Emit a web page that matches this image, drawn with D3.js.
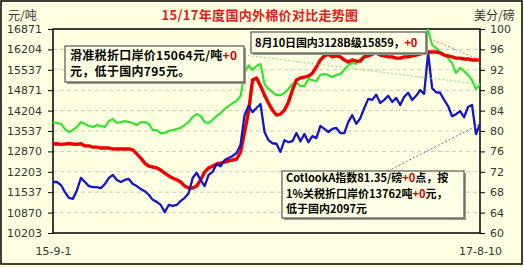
<!DOCTYPE html>
<html><head><meta charset="utf-8">
<script src="https://cdn.jsdelivr.net/npm/d3@7"></script>
<style>html,body{margin:0;padding:0;background:#ffffe1}svg{display:block}</style>
</head><body><svg id="c" width="524" height="268"></svg>
<script>
const leftTicks = [10203,10870,11537,12203,12870,13537,14204,14871,15537,16204,16871];
const rightTicks = [60,64,68,72,76,80,84,88,92,96,100];
const xLabels = ["15-9-1","17-8-10"];
const titleText = "15/17年度国内外棉价对比走势图";
const leftUnit = "元/吨";
const rightUnit = "美分/磅";

// green: sliding-tax import price (yuan/ton, left axis)
const slidingTaxPrice = [13830,13800,13770,13600,13500,13570,13670,13830,13770,13700,
 13670,13730,13700,13670,13860,13930,13800,13830,13860,13830,
 13800,13730,13830,13830,13770,13570,13570,13470,13470,13540,
 13570,13600,13640,13730,13830,13990,14090,14030,13830,13800,
 13900,14030,14120,14260,14350,14450,14520,14680,15430,15690,
 15530,15660,15730,15070,14910,14810,14710,14710,14780,14910,
 15070,15110,15010,15010,15240,15200,15170,15370,15400,15370,
 15300,15370,15400,15530,15690,15760,15730,15890,15990,16090,
 16220,16280,16250,16190,16190,16150,16120,16220,16280,16020,
 16090,16150,16190,16350,16840,16350,16250,16120,16050,15920,
 15760,15430,15600,15500,15370,15200,14910,15064];
// red: domestic 3128B price (yuan/ton, left axis)
const domestic3128B = [13110,13120,13100,13110,13130,13110,13100,13120,13050,13050,
 13010,13010,12980,12980,12980,12950,12950,12950,12950,12950,
 12920,12790,12650,12490,12390,12360,12330,12260,12160,12070,
 12000,11940,11870,11740,11670,11670,11740,11940,12200,12330,
 12390,12460,12490,12520,12560,12590,12620,12850,13500,14160,
 15200,15270,15010,14710,14450,14220,14060,14090,14220,14480,
 14880,15200,15270,15300,15330,15430,15630,15860,15990,16050,
 15960,15990,15960,15860,15790,15860,15820,15820,15960,15990,
 16050,16090,16020,15990,15960,15960,15920,15920,15960,15960,
 15990,16020,16050,16090,16120,16120,16120,16090,16020,15990,
 15960,15920,15920,15890,15890,15860,15860,15859];
// blue: Cotlook A index (cents/lb, right axis)
const cotlookA = [70.0,70.0,69.4,68.0,66.9,66.7,68.4,70.8,70.0,69.2,
 69.0,69.0,68.8,69.6,70.8,71.4,70.4,70.0,70.4,70.6,
 69.6,69.2,68.6,68.2,67.5,66.5,66.1,65.5,64.1,65.5,
 65.3,65.5,66.3,66.9,67.8,70.8,71.8,70.4,69.2,71.4,
 72.0,73.5,73.1,74.3,74.7,75.1,75.7,77.3,83.1,84.9,
 83.7,84.5,85.3,79.8,78.2,77.6,77.5,75.9,78.2,77.8,
 78.0,79.6,78.0,79.4,77.8,79.0,78.6,81.0,80.4,79.8,
 80.4,80.6,79.6,79.6,81.8,83.1,81.4,82.5,84.5,86.3,
 86.1,87.1,85.5,86.1,86.9,85.7,86.5,85.1,86.7,87.5,
 86.1,86.9,88.0,87.3,95.3,88.4,87.6,87.5,86.1,84.9,
 82.9,83.3,83.9,82.7,84.7,85.1,79.4,81.35];

const note1 = [[["滑准税折口岸价15064元/吨","#000"],["+0","#d00000"]],[["元，低于国内795元。","#000"]]];
const note2 = [[["8月10日国内3128B级15859，","#000"],["+0","#d00000"]]];
const note3 = [[["CotlookA指数81.35/磅","#000"],["+0","#d00000"],["点，按","#000"]],
               [["1%关税折口岸价13762吨","#000"],["+0","#d00000"],["元，","#000"]],
               [["低于国内2097元","#000"]]];

const W = 524, H = 268;
const M = {l:53, r:480, t:29, b:233};
const svg = d3.select("#c");
const cjk = "'Noto Sans CJK SC','Noto Sans',sans-serif";
const num = "'DejaVu Sans',Verdana,sans-serif";

svg.append("rect").attr("x",0).attr("y",0).attr("width",W).attr("height",H).attr("fill","#ffffe1");
svg.append("rect").attr("x",1).attr("y",1).attr("width",521).attr("height",263)
  .attr("fill","none").attr("stroke","#000").attr("stroke-width",1.5);

const n = cotlookA.length;
const x = d3.scaleLinear().domain([0,n-1]).range([M.l,M.r]);
const yL = d3.scaleLinear().domain([leftTicks[0],leftTicks[leftTicks.length-1]]).range([M.b,M.t]);
const yR = d3.scaleLinear().domain([rightTicks[0],rightTicks[rightTicks.length-1]]).range([M.b,M.t]);

// grid
svg.append("g").selectAll("line").data(leftTicks.slice(1,-1)).join("line")
  .attr("x1",M.l).attr("x2",M.r).attr("y1",d=>yL(d)).attr("y2",d=>yL(d))
  .attr("stroke","#c8c8c0").attr("stroke-width",1).attr("stroke-dasharray","4,3");

// axes
const axL = svg.append("g").attr("transform",`translate(${M.l},0)`)
  .call(d3.axisLeft(yL).tickValues(leftTicks).tickSize(5).tickPadding(6).tickFormat(d=>d));
const axR = svg.append("g").attr("transform",`translate(${M.r},0)`)
  .call(d3.axisRight(yR).tickValues(rightTicks).tickSize(5).tickPadding(5).tickFormat(d=>d));
const axB = svg.append("g").attr("transform",`translate(0,${M.b})`)
  .call(d3.axisBottom(x).tickValues([0,n-1]).tickSize(0).tickPadding(14).tickFormat((d,i)=>xLabels[i]));
[axL,axR,axB].forEach(a=>{
  a.select(".domain").remove();
  a.selectAll("line").attr("stroke","#000");
  a.selectAll("text").attr("font-family",num).attr("font-size","11px").attr("fill","#333");
});

// frame
svg.append("rect").attr("x",M.l).attr("y",M.t).attr("width",M.r-M.l).attr("height",M.b-M.t)
  .attr("fill","none").attr("stroke","#000").attr("stroke-width",1.5);

// lines
const lineL = d3.line().x((d,i)=>x(i)).y(d=>yL(d));
const lineR = d3.line().x((d,i)=>x(i)).y(d=>yR(d));
svg.append("path").datum(slidingTaxPrice).attr("d",lineL).attr("fill","none")
  .attr("stroke","#2ee62e").attr("stroke-width",2.2).attr("stroke-linejoin","round");
svg.append("path").datum(domestic3128B).attr("d",lineL).attr("fill","none")
  .attr("stroke","#ee0000").attr("stroke-width",3.4).attr("stroke-linejoin","round");
svg.append("path").datum(cotlookA).attr("d",lineR).attr("fill","none")
  .attr("stroke","#1414c8").attr("stroke-width",2.3).attr("stroke-linejoin","round");

// leader lines
const last = n-1;
svg.append("line").attr("x1",244).attr("y1",55).attr("x2",x(last)).attr("y2",yL(slidingTaxPrice[last]))
  .attr("stroke","#7fe07f").attr("stroke-width",1).attr("stroke-dasharray","2,2");
svg.append("line").attr("x1",426).attr("y1",37).attr("x2",x(last)).attr("y2",yL(domestic3128B[last]))
  .attr("stroke","#f06a6a").attr("stroke-width",1).attr("stroke-dasharray","2,2");
svg.append("line").attr("x1",388).attr("y1",171).attr("x2",x(last)).attr("y2",yR(cotlookA[last]))
  .attr("stroke","#7070a8").attr("stroke-width",1).attr("stroke-dasharray","2,2");

// annotation boxes
function note(bx,by,bw,bh,lines,tx,ty,lh,fs,ls){
  svg.append("rect").attr("x",bx+2).attr("y",by+2).attr("width",bw).attr("height",bh).attr("fill","#9a9a90");
  svg.append("rect").attr("x",bx).attr("y",by).attr("width",bw).attr("height",bh)
    .attr("fill","#ffffe6").attr("stroke","#555").attr("stroke-width",1.2);
  lines.forEach((ln,k)=>{
    const t = svg.append("text").attr("x",tx).attr("y",ty+k*lh)
      .attr("font-family",cjk).attr("font-size",fs+"px").attr("font-weight","bold")
      .attr("letter-spacing",ls+"px");
    ln.forEach(s=>t.append("tspan").attr("fill",s[1]).text(s[0]));
  });
}
note(65,46,179,36,note1,70,60,16,12,0.3);
note(251,32,175,21,note2,255,47,16,11,-0.1);
note(282,171,182,47,note3,286,182,15.5,11,0);

// titles
svg.append("text").attr("x",260).attr("y",20).attr("text-anchor","middle")
  .attr("font-family",cjk).attr("font-size","13px").attr("font-weight","bold")
  .attr("fill","#e02020").attr("letter-spacing","0.3px").text(titleText);
svg.append("text").attr("x",8).attr("y",20).attr("font-family",cjk).attr("font-size","12px")
  .attr("fill","#333").text(leftUnit);
svg.append("text").attr("x",474).attr("y",20).attr("font-family",cjk).attr("font-size","12px")
  .attr("fill","#333").text(rightUnit);
</script></body></html>
